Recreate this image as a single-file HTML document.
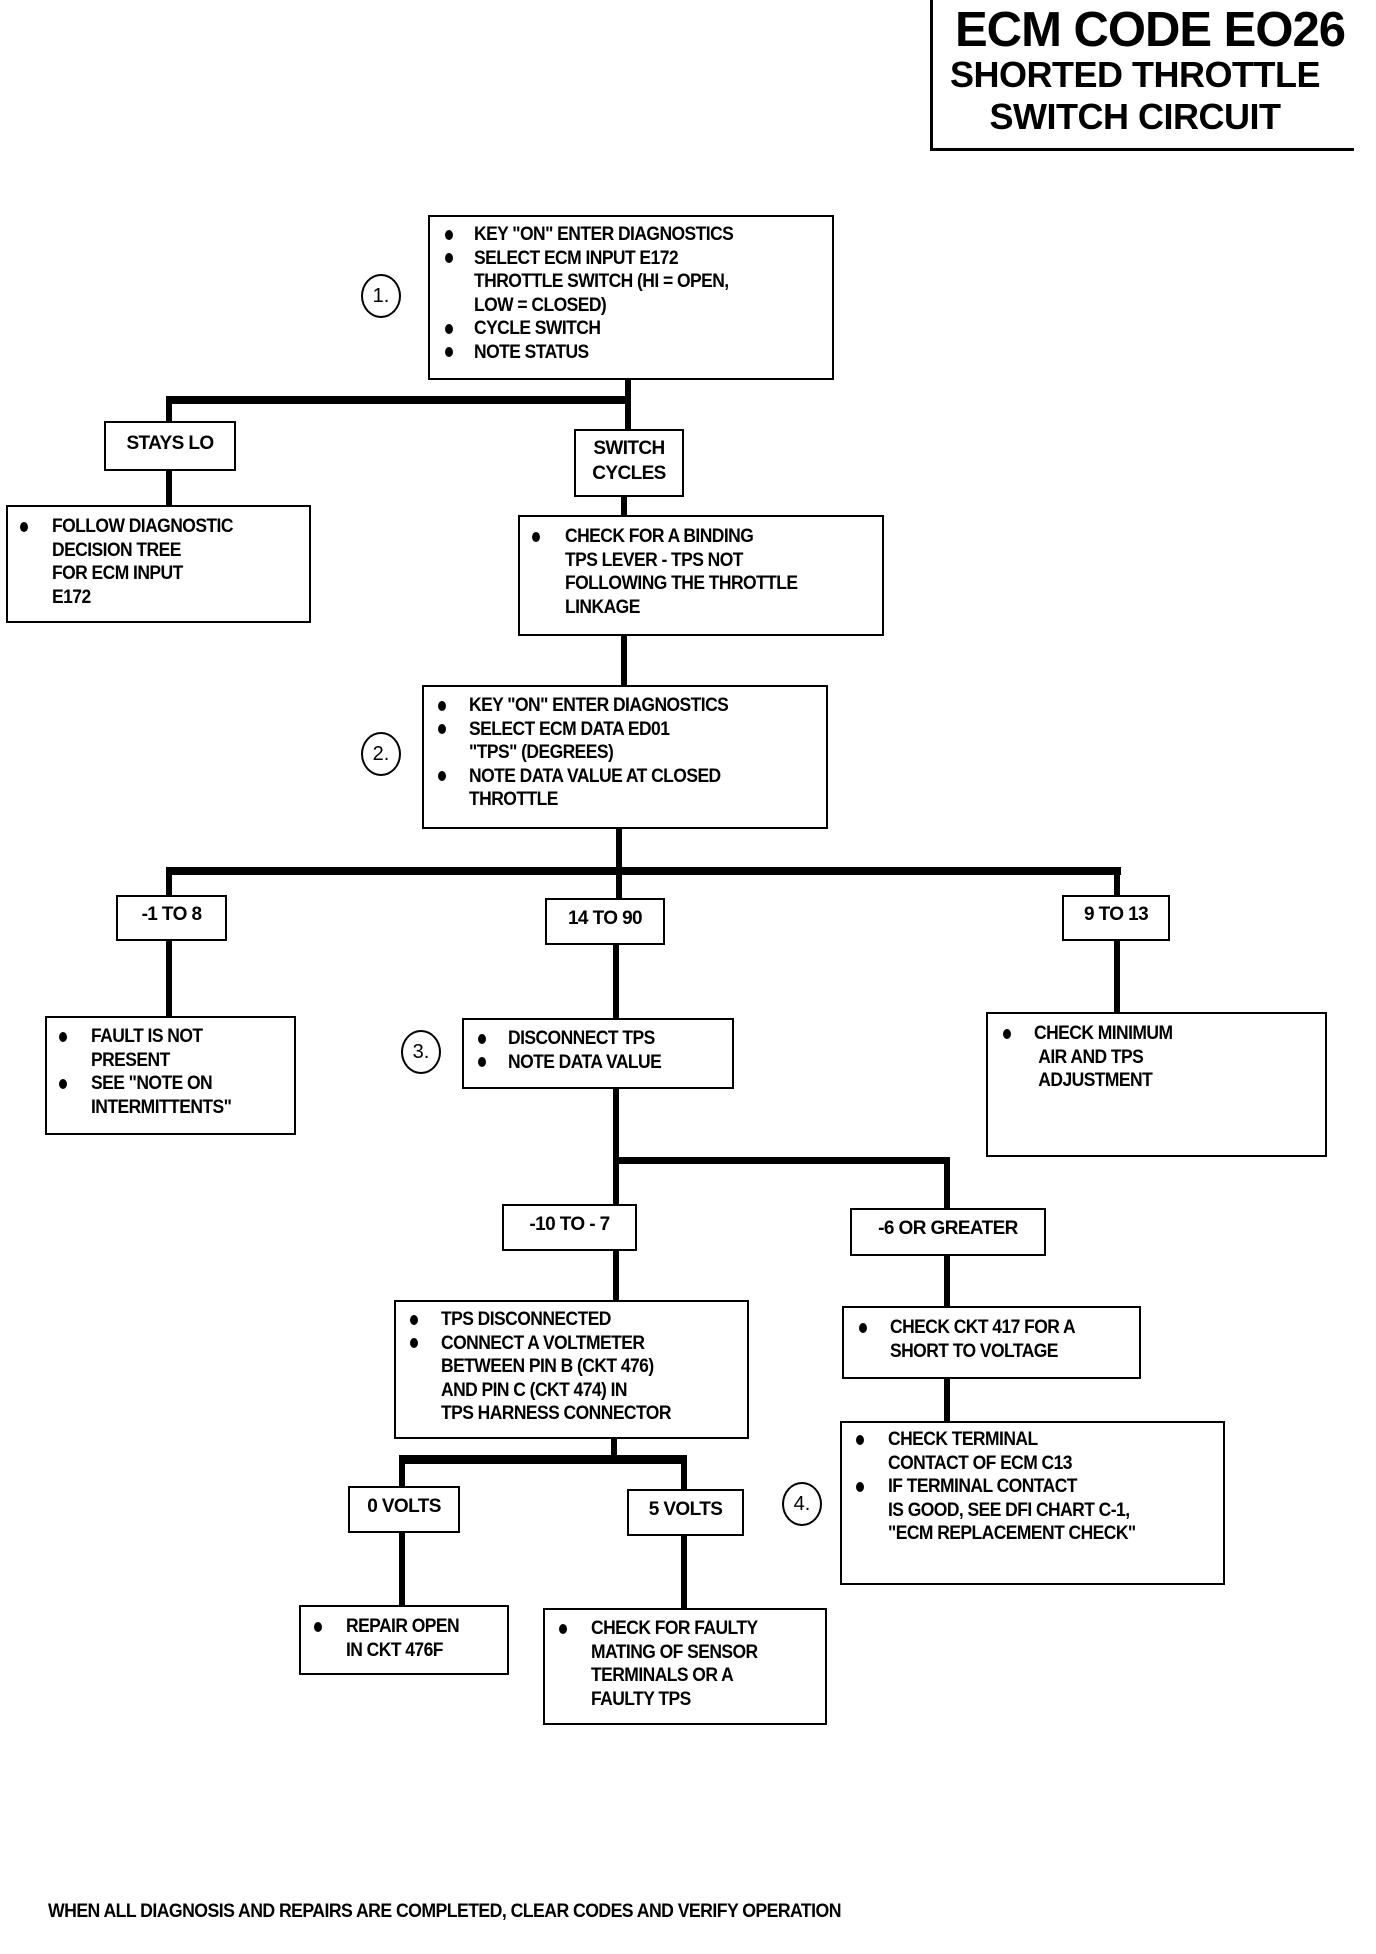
<!DOCTYPE html>
<html><head><meta charset="utf-8"><style>
body{margin:0;background:#fff;width:1376px;height:1954px;position:relative;overflow:hidden;font-family:"Liberation Sans",sans-serif;font-weight:bold;color:#000}
.b{position:absolute;border:2.5px solid #000;box-sizing:border-box;background:#fff}
.t{position:absolute;font-size:19px;line-height:23.5px;letter-spacing:-0.6px;white-space:nowrap;transform:scaleX(0.92);transform-origin:left top}
.l{position:absolute;background:#000}
.c{position:absolute;border:2.5px solid #000;border-radius:50%;width:40px;height:44px;box-sizing:border-box;font-size:20px;font-weight:normal;text-align:center;line-height:40px}
.bul{position:absolute;width:8px;height:10px;border-radius:50%;background:#000}
.lab{position:absolute;font-size:19px;letter-spacing:-0.6px;text-align:center;white-space:nowrap}
</style></head><body>
<!-- title -->
<div class="l" style="left:930px;top:0;width:2.5px;height:150px"></div>
<div class="l" style="left:930px;top:148px;width:424px;height:2.5px"></div>
<div style="position:absolute;left:940px;top:2px;width:420px;text-align:center;font-size:49px;line-height:56px;letter-spacing:-1px">ECM CODE EO26</div>
<div style="position:absolute;left:935px;top:54px;width:400px;text-align:center;font-size:36px;line-height:42px;letter-spacing:-0.5px">SHORTED THROTTLE<br>SWITCH CIRCUIT</div>

<!-- connectors -->
<div class="l" style="left:625px;top:379px;width:6px;height:50px"></div>
<div class="l" style="left:166px;top:396px;width:465px;height:8px"></div>
<div class="l" style="left:166px;top:396px;width:6px;height:26px"></div>
<div class="l" style="left:166px;top:470px;width:6px;height:36px"></div>
<div class="l" style="left:621px;top:496px;width:6px;height:20px"></div>
<div class="l" style="left:621px;top:635px;width:6px;height:50px"></div>
<div class="l" style="left:616px;top:828px;width:6px;height:70px"></div>
<div class="l" style="left:166px;top:867px;width:955px;height:8px"></div>
<div class="l" style="left:166px;top:867px;width:6px;height:30px"></div>
<div class="l" style="left:1114px;top:867px;width:6px;height:30px"></div>
<div class="l" style="left:166px;top:940px;width:6px;height:77px"></div>
<div class="l" style="left:613px;top:944px;width:6px;height:75px"></div>
<div class="l" style="left:1114px;top:940px;width:6px;height:73px"></div>
<div class="l" style="left:613px;top:1088px;width:6px;height:118px"></div>
<div class="l" style="left:613px;top:1157px;width:337px;height:7px"></div>
<div class="l" style="left:944px;top:1157px;width:6px;height:52px"></div>
<div class="l" style="left:613px;top:1250px;width:6px;height:52px"></div>
<div class="l" style="left:944px;top:1255px;width:6px;height:52px"></div>
<div class="l" style="left:944px;top:1378px;width:6px;height:44px"></div>
<div class="l" style="left:611px;top:1438px;width:6px;height:24px"></div>
<div class="l" style="left:399px;top:1455px;width:288px;height:9px"></div>
<div class="l" style="left:399px;top:1455px;width:6px;height:32px"></div>
<div class="l" style="left:681px;top:1455px;width:6px;height:35px"></div>
<div class="l" style="left:399px;top:1532px;width:6px;height:74px"></div>
<div class="l" style="left:681px;top:1535px;width:6px;height:74px"></div>

<!-- box1 -->
<div class="b" style="left:428px;top:215px;width:406px;height:165px"></div>
<div class="bul" style="left:445px;top:230px"></div><div class="bul" style="left:445px;top:253px"></div><div class="bul" style="left:445px;top:324px"></div><div class="bul" style="left:445px;top:347px"></div>
<div class="t" style="left:474px;top:223px">KEY "ON" ENTER DIAGNOSTICS<br>SELECT ECM INPUT E172<br>THROTTLE SWITCH (HI = OPEN,<br>LOW = CLOSED)<br>CYCLE SWITCH<br>NOTE STATUS</div>
<div class="c" style="left:361px;top:274px">1.</div>

<div class="b" style="left:104px;top:421px;width:132px;height:50px"></div>
<div class="lab" style="left:104px;top:433px;width:132px">STAYS LO</div>
<div class="b" style="left:574px;top:429px;width:110px;height:68px"></div>
<div class="lab" style="left:574px;top:436px;width:110px;line-height:25px">SWITCH<br>CYCLES</div>

<div class="b" style="left:6px;top:505px;width:305px;height:118px"></div>
<div class="bul" style="left:20px;top:522px"></div>
<div class="t" style="left:52px;top:515px">FOLLOW DIAGNOSTIC<br>DECISION TREE<br>FOR ECM INPUT<br>E172</div>
<div class="b" style="left:518px;top:515px;width:366px;height:121px"></div>
<div class="bul" style="left:532px;top:532px"></div>
<div class="t" style="left:565px;top:525px">CHECK FOR A BINDING<br>TPS LEVER - TPS NOT<br>FOLLOWING THE THROTTLE<br>LINKAGE</div>

<!-- box2 -->
<div class="b" style="left:422px;top:685px;width:406px;height:144px"></div>
<div class="bul" style="left:438px;top:701px"></div><div class="bul" style="left:438px;top:724px"></div><div class="bul" style="left:438px;top:771px"></div>
<div class="t" style="left:469px;top:694px">KEY "ON" ENTER DIAGNOSTICS<br>SELECT ECM DATA ED01<br>"TPS" (DEGREES)<br>NOTE DATA VALUE AT CLOSED<br>THROTTLE</div>
<div class="c" style="left:361px;top:732px">2.</div>

<div class="b" style="left:116px;top:895px;width:111px;height:46px"></div>
<div class="lab" style="left:116px;top:904px;width:111px">-1 TO 8</div>
<div class="b" style="left:545px;top:898px;width:120px;height:47px"></div>
<div class="lab" style="left:545px;top:908px;width:120px">14 TO 90</div>
<div class="b" style="left:1062px;top:895px;width:108px;height:46px"></div>
<div class="lab" style="left:1062px;top:904px;width:108px">9 TO 13</div>

<div class="b" style="left:45px;top:1016px;width:251px;height:119px"></div>
<div class="bul" style="left:59px;top:1032px"></div><div class="bul" style="left:59px;top:1079px"></div>
<div class="t" style="left:91px;top:1025px">FAULT IS NOT<br>PRESENT<br>SEE "NOTE ON<br>INTERMITTENTS"</div>
<div class="b" style="left:462px;top:1018px;width:272px;height:71px"></div>
<div class="bul" style="left:478px;top:1034px"></div><div class="bul" style="left:478px;top:1057px"></div>
<div class="t" style="left:508px;top:1027px">DISCONNECT TPS<br>NOTE DATA VALUE</div>
<div class="c" style="left:401px;top:1030px">3.</div>
<div class="b" style="left:986px;top:1012px;width:341px;height:145px"></div>
<div class="bul" style="left:1003px;top:1029px"></div>
<div class="t" style="left:1034px;top:1022px">CHECK MINIMUM<br>&nbsp;AIR AND TPS<br>&nbsp;ADJUSTMENT</div>

<div class="b" style="left:502px;top:1204px;width:135px;height:47px"></div>
<div class="lab" style="left:502px;top:1214px;width:135px">-10 TO - 7</div>
<div class="b" style="left:850px;top:1208px;width:196px;height:48px"></div>
<div class="lab" style="left:850px;top:1218px;width:196px">-6 OR GREATER</div>

<div class="b" style="left:394px;top:1300px;width:355px;height:139px"></div>
<div class="bul" style="left:410px;top:1315px"></div><div class="bul" style="left:410px;top:1338px"></div>
<div class="t" style="left:441px;top:1308px">TPS DISCONNECTED<br>CONNECT A VOLTMETER<br>BETWEEN PIN B (CKT 476)<br>AND PIN C (CKT 474) IN<br>TPS HARNESS CONNECTOR</div>
<div class="b" style="left:842px;top:1306px;width:299px;height:73px"></div>
<div class="bul" style="left:859px;top:1323px"></div>
<div class="t" style="left:890px;top:1316px">CHECK CKT 417 FOR A<br>SHORT TO VOLTAGE</div>
<div class="b" style="left:840px;top:1421px;width:385px;height:164px"></div>
<div class="bul" style="left:856px;top:1435px"></div><div class="bul" style="left:856px;top:1482px"></div>
<div class="t" style="left:888px;top:1428px">CHECK TERMINAL<br>CONTACT OF ECM C13<br>IF TERMINAL CONTACT<br>IS GOOD, SEE DFI CHART C-1,<br>"ECM REPLACEMENT CHECK"</div>
<div class="c" style="left:782px;top:1482px">4.</div>

<div class="b" style="left:348px;top:1486px;width:112px;height:47px"></div>
<div class="lab" style="left:348px;top:1496px;width:112px">0 VOLTS</div>
<div class="b" style="left:627px;top:1489px;width:117px;height:47px"></div>
<div class="lab" style="left:627px;top:1499px;width:117px">5 VOLTS</div>

<div class="b" style="left:299px;top:1605px;width:210px;height:70px"></div>
<div class="bul" style="left:314px;top:1622px"></div>
<div class="t" style="left:346px;top:1615px">REPAIR OPEN<br>IN CKT 476F</div>
<div class="b" style="left:543px;top:1608px;width:284px;height:117px"></div>
<div class="bul" style="left:559px;top:1624px"></div>
<div class="t" style="left:591px;top:1617px">CHECK FOR FAULTY<br>MATING OF SENSOR<br>TERMINALS OR A<br>FAULTY TPS</div>

<div class="t" style="left:48px;top:1900px;font-size:19px;transform:scaleX(0.93)">WHEN ALL DIAGNOSIS AND REPAIRS ARE COMPLETED, CLEAR CODES AND VERIFY OPERATION</div>
</body></html>
